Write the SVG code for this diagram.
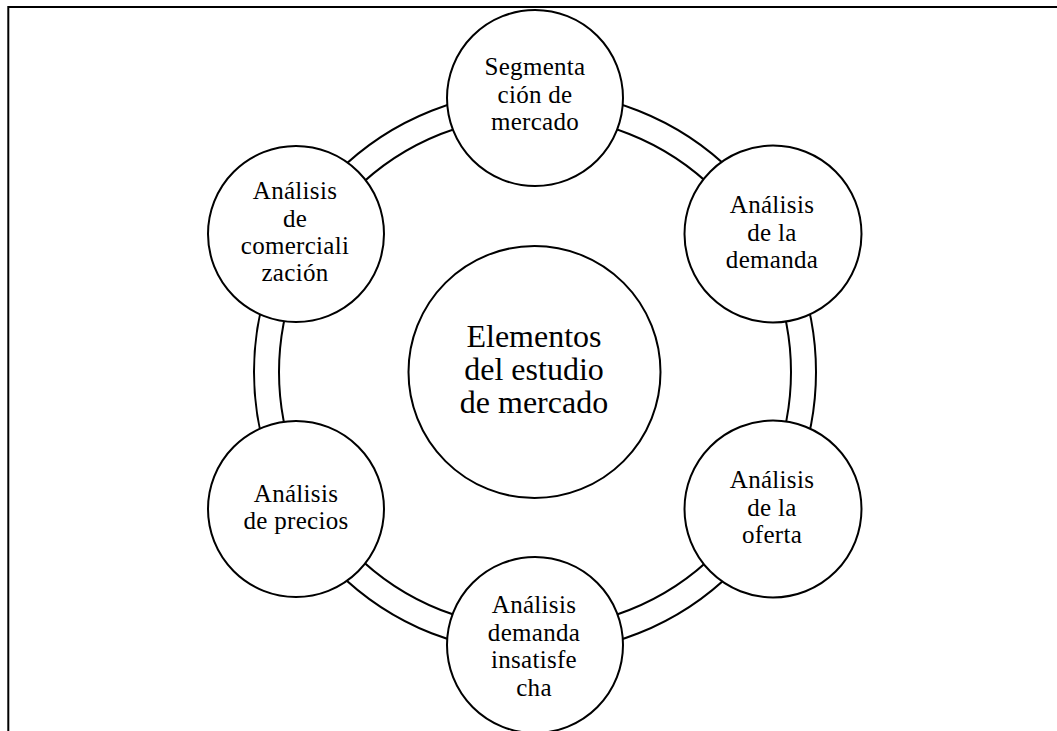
<svg xmlns="http://www.w3.org/2000/svg" width="1057" height="731" viewBox="0 0 1057 731">
<style>
.n{fill:#fff;stroke:#000;stroke-width:2}
.r{fill:none;stroke:#000;stroke-width:2}
.t{font-family:"Liberation Serif","Times New Roman",serif;font-size:25px;letter-spacing:0.3px;text-anchor:middle;fill:#000}
.c{font-family:"Liberation Serif","Times New Roman",serif;font-size:32px;text-anchor:middle;fill:#000}
</style>
<rect width="1057" height="731" fill="#fff"/>
<path d="M8.3 731V7H1057" fill="none" stroke="#000" stroke-width="2"/>
<g id="connectors">
<circle class="r" cx="535" cy="372" r="281"/>
<circle class="r" cx="535" cy="372" r="256"/>
</g>
<g id="center">
<circle class="n" cx="534.5" cy="372" r="126"/>
<text class="c" x="534" y="346.7">Elementos</text>
<text class="c" x="534" y="380">del estudio</text>
<text class="c" x="534" y="412.7">de mercado</text>
</g>
<g id="segmentacion">
<circle class="n" cx="535" cy="98" r="88"/>
<text class="t" x="535" y="75">Segmenta</text>
<text class="t" x="535" y="102.5">ción de</text>
<text class="t" x="535" y="130">mercado</text>
</g>
<g id="demanda">
<circle class="n" cx="773" cy="234" r="88.5"/>
<text class="t" x="772" y="213">Análisis</text>
<text class="t" x="772" y="240.5">de la</text>
<text class="t" x="772" y="268">demanda</text>
</g>
<g id="oferta">
<circle class="n" cx="773" cy="509" r="88.5"/>
<text class="t" x="772" y="488">Análisis</text>
<text class="t" x="772" y="515.5">de la</text>
<text class="t" x="772" y="543">oferta</text>
</g>
<g id="insatisfecha">
<circle class="n" cx="535" cy="645" r="88"/>
<text class="t" x="534" y="613">Análisis</text>
<text class="t" x="534" y="640.7">demanda</text>
<text class="t" x="534" y="668.3">insatisfe</text>
<text class="t" x="534" y="696">cha</text>
</g>
<g id="precios">
<circle class="n" cx="296" cy="509" r="88"/>
<text class="t" x="296" y="501.7">Análisis</text>
<text class="t" x="296" y="529.2">de precios</text>
</g>
<g id="comercializacion">
<circle class="n" cx="296" cy="234" r="88"/>
<text class="t" x="295" y="199.3">Análisis</text>
<text class="t" x="295" y="226.6">de</text>
<text class="t" x="295" y="253.9">comerciali</text>
<text class="t" x="295" y="281.2">zación</text>
</g>
</svg>
